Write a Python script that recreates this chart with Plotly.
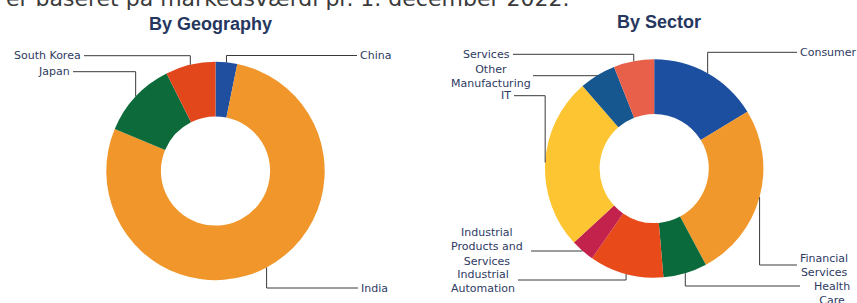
import math
import plotly.graph_objects as go

# ---------------- data ----------------
geo_labels = ["China", "India", "Japan", "South Korea"]
geo_values = [3.2, 78.1, 11.3, 7.4]
geo_colors = ["#1f4f9e", "#f0962a", "#0c6a3b", "#e2471c"]

sec_labels = ["Consumer", "Financial Services", "Health Care", "Industrial Automation",
              "Industrial Products and Services", "IT", "Other Manufacturing", "Services"]
sec_values = [16.3, 25.9, 6.5, 11.0, 3.5, 25.5, 5.4, 6.0]
sec_colors = ["#1d4fa0", "#f0982c", "#0b6a3c", "#e84a1a", "#c2224b", "#fcc531", "#17578f", "#e8604a"]

# ---------------- layout constants (pixels) ----------------
W, H = 857, 303
R = 109.2
GEO_C = (215.5, 171.0)
SEC_C = (654.2, 168.5)

LABEL_COLOR = "#2e3a63"
LINE_COLOR = "#3a3a3a"
LABEL_FONT = dict(family="DejaVu Sans", size=11, color=LABEL_COLOR)

# label placement: text shown, text x, text y, xanchor, leader y, leader end x
geo_label_pos = {
    "China": ("China", 358, 55.5, "left", 55.5, 357),
    "India": ("India", 359, 288, "left", 288, 358),
    "Japan": ("Japan", 72, 71.7, "right", 71.7, 73),
    "South Korea": ("South Korea", 83, 55.7, "right", 55.7, 84),
}
sec_label_pos = {
    "Consumer": ("Consumer", 798, 52.3, "left", 52.3, 797),
    "Financial Services": ("Financial<br>Services", 798, 265, "left", 265, 797),
    "Health Care": ("Health<br>Care", 832, 293.5, "center", 286, 800),
    "Industrial Automation": ("Industrial<br>Automation", 483, 281.7, "center", 280, 518),
    "Industrial Products and Services": ("Industrial<br>Products and<br>Services", 487, 246.7, "center", 251, 531),
    "IT": ("IT", 513, 95.7, "right", 95.7, 514),
    "Other Manufacturing": ("Other<br>Manufacturing", 491, 76.7, "center", 75.7, 533),
    "Services": ("Services", 512, 54.3, "right", 54.3, 513),
}


def px(x):
    return x / W


def py(y):
    return 1 - y / H


def domain(c):
    return dict(x=[px(c[0] - R), px(c[0] + R)], y=[py(c[1] + R), py(c[1] - R)])


fig = go.Figure()
fig.add_trace(go.Pie(labels=geo_labels, values=geo_values, hole=0.5, sort=False,
                     direction="clockwise", rotation=0, textinfo="none",
                     marker=dict(colors=geo_colors, line=dict(width=0)),
                     domain=domain(GEO_C), showlegend=False))
fig.add_trace(go.Pie(labels=sec_labels, values=sec_values, hole=0.5, sort=False,
                     direction="clockwise", rotation=0, textinfo="none",
                     marker=dict(colors=sec_colors, line=dict(width=0)),
                     domain=domain(SEC_C), showlegend=False))

shapes = []
annotations = []


def add_labels(labels, values, center, posmap):
    total = sum(values)
    cum = 0
    for lab, v in zip(labels, values):
        mid = (cum + v / 2) / total * 2 * math.pi
        cum += v
        ex = center[0] + R * math.sin(mid)
        ey = center[1] - R * math.cos(mid)
        text, tx, ty, xa, ly, lx = posmap[lab]
        path = "M {} {} L {} {} L {} {}".format(px(ex), py(ey), px(ex), py(ly), px(lx), py(ly))
        shapes.append(dict(type="path", path=path, xref="paper", yref="paper",
                           line=dict(color=LINE_COLOR, width=1)))
        annotations.append(dict(text=text, x=px(tx), y=py(ty), xref="paper", yref="paper",
                                xanchor=xa, yanchor="middle", showarrow=False,
                                font=LABEL_FONT, align="center"))


add_labels(geo_labels, geo_values, GEO_C, geo_label_pos)
add_labels(sec_labels, sec_values, SEC_C, sec_label_pos)

TITLE_FONT = dict(family="Liberation Sans", size=18, color="#26375f")
annotations.append(dict(text="<b>By Geography</b>", x=px(210.5), y=py(24), xref="paper", yref="paper",
                        xanchor="center", yanchor="middle", showarrow=False, font=TITLE_FONT))
annotations.append(dict(text="<b>By Sector</b>", x=px(659), y=py(22.5), xref="paper", yref="paper",
                        xanchor="center", yanchor="middle", showarrow=False, font=TITLE_FONT))
annotations.append(dict(text="er baseret på markedsværdi pr. 1. december 2022.", x=px(4), y=py(-1.5),
                        xref="paper", yref="paper", xanchor="left", yanchor="middle", showarrow=False,
                        font=dict(family="DejaVu Sans", size=22, color="#3a3a3a")))

fig.update_layout(width=W, height=H, margin=dict(l=0, r=0, t=0, b=0),
                  paper_bgcolor="white", plot_bgcolor="white",
                  shapes=shapes, annotations=annotations)

fig.write_html("out.html", config={"displayModeBar": False},
               post_script="document.body.style.margin='0';document.body.style.padding='0';"
                           "document.documentElement.style.overflow='hidden';")
